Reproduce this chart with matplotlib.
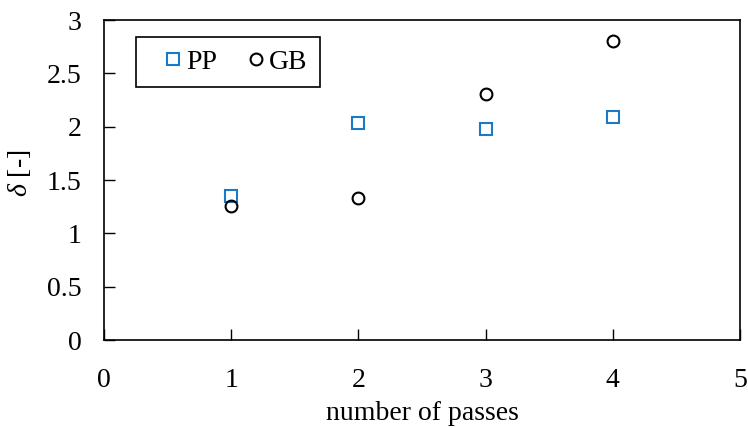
import matplotlib
matplotlib.use("Agg")
import matplotlib.pyplot as plt

plt.rcParams['font.family'] = ['Liberation Serif', 'DejaVu Serif']
plt.rcParams['mathtext.fontset'] = 'custom'
plt.rcParams['mathtext.it'] = 'Liberation Serif:italic'
plt.rcParams['mathtext.rm'] = 'Liberation Serif'

# data
passes = [1, 2, 3, 4]
pp_delta = [1.35, 2.03, 1.975, 2.093]
gb_delta = [1.256, 1.334, 2.305, 2.80]
x_ticks = [0, 1, 2, 3, 4, 5]
y_ticks = [0, 0.5, 1, 1.5, 2, 2.5, 3]
y_tick_labels = ['0', '0.5', '1', '1.5', '2', '2.5', '3']

fig = plt.figure(figsize=(7.48, 4.28), dpi=100)
ax = fig.add_axes([104 / 748, 1 - 340 / 428, 636 / 748, 320 / 428])

ax.plot(passes, pp_delta, linestyle='none', marker='s', markersize=8.5,
        markerfacecolor='none', markeredgecolor='#1a7ac8', markeredgewidth=1.5, label='PP')
ax.plot(passes, gb_delta, linestyle='none', marker='o', markersize=8.5,
        markerfacecolor='none', markeredgecolor='black', markeredgewidth=1.5, label='GB')

ax.set_xlim(0, 5)
ax.set_ylim(0, 3)
ax.set_xticks(x_ticks)
ax.set_yticks(y_ticks)
ax.set_yticklabels(y_tick_labels)
ax.tick_params(direction='in', length=8, width=1, labelsize=20)
ax.tick_params(axis='x', pad=20)
ax.tick_params(axis='y', pad=16)
for s in ax.spines.values():
    s.set_linewidth(1.2)

ax.set_xlabel('number of passes', fontsize=20, labelpad=6)
ax.set_ylabel(r'$\delta$ [-]', fontsize=20)
ax.yaxis.set_label_coords(-0.112, 0.52)

leg = ax.legend(loc='upper left', bbox_to_anchor=(0.051, 0.947), ncol=2, fontsize=20,
                frameon=True, fancybox=False, edgecolor='black', framealpha=1,
                handletextpad=-0.41, columnspacing=0.5, borderpad=0.45, handlelength=1.76,
                borderaxespad=0)
leg.get_frame().set_linewidth(1.2)

fig.savefig('out.png', dpi=100)
